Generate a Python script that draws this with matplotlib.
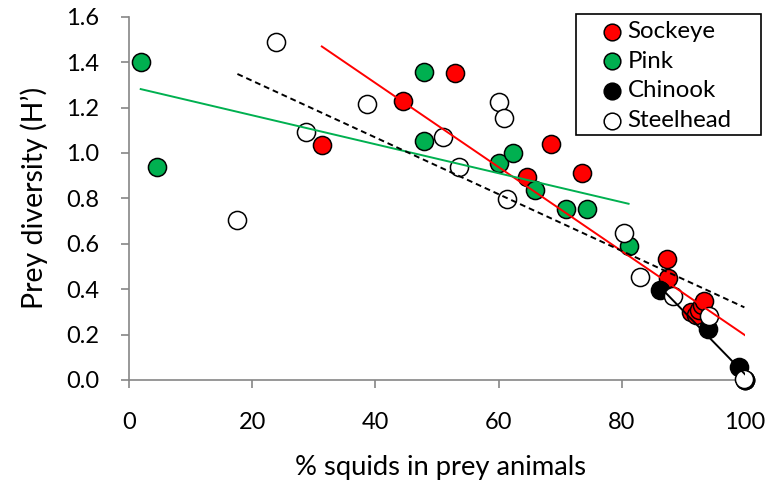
import numpy as np
import matplotlib
matplotlib.use("Agg")
import matplotlib.pyplot as plt
from matplotlib.patches import Rectangle

plt.rcParams['font.family'] = ['Lato', 'DejaVu Sans']

# % squids in prey animals (x) and prey diversity H' (y) per species
sockeye_x = [31.3, 44.5, 52.9, 64.6, 68.5, 73.5, 87.4, 87.5, 91.3, 92.0, 92.6, 93.0, 93.3, 100.0, 100.0]
sockeye_y = [1.035, 1.23, 1.351, 0.896, 1.040, 0.910, 0.534, 0.450, 0.300, 0.287, 0.310, 0.330, 0.350, 0.0, 0.0]

pink_x = [1.9, 4.6, 47.9, 47.9, 60.1, 62.3, 65.9, 70.9, 74.3, 81.1]
pink_y = [1.40, 0.94, 1.358, 1.053, 0.954, 0.998, 0.837, 0.752, 0.753, 0.592]

chinook_x = [86.2, 94.0, 99.1, 100.0]
chinook_y = [0.396, 0.223, 0.059, 0.0]

steelhead_x = [17.6, 23.9, 28.8, 38.7, 50.9, 53.6, 60.0, 60.9, 61.4, 80.3, 83.0, 88.3, 94.2, 99.9]
steelhead_y = [0.703, 1.488, 1.091, 1.214, 1.072, 0.937, 1.226, 1.152, 0.796, 0.646, 0.455, 0.372, 0.282, 0.003]

x_ticks = [0, 20, 40, 60, 80, 100]
y_ticks = [0.0, 0.2, 0.4, 0.6, 0.8, 1.0, 1.2, 1.4, 1.6]

RED = '#FF0000'
GREEN = '#00B050'
AXIS_GREY = '#868686'

W, H = 773, 483
fig = plt.figure(figsize=(W / 100, H / 100), dpi=100)
ax = fig.add_axes([129 / W, 103 / H, 616 / W, 363.3 / H])

series = [
    ("Sockeye", sockeye_x, sockeye_y, RED),
    ("Pink", pink_x, pink_y, GREEN),
    ("Chinook", chinook_x, chinook_y, 'black'),
    ("Steelhead", steelhead_x, steelhead_y, 'white'),
]

for i, (name, xs, ys, col) in enumerate(series):
    ax.scatter(xs, ys, s=170, c=col, edgecolors='black', linewidths=1.1,
               label=name, zorder=3 + i * 0.1, clip_on=False)

# Linear trend per species, spanning each species' x range
trend_styles = [
    (sockeye_x, sockeye_y, RED, '-'),
    (pink_x, pink_y, GREEN, '-'),
    (chinook_x, chinook_y, 'black', '-'),
    (steelhead_x, steelhead_y, 'black', (0, (3.0, 2.0))),
]
for xs, ys, col, ls in trend_styles:
    k, b = np.polyfit(xs, ys, 1)
    xx = np.array([min(xs), max(xs)])
    ax.plot(xx, k * xx + b, color=col, lw=1.4, ls=ls, zorder=5)

ax.set_xlim(0, 100)
ax.set_ylim(0, 1.6)
ax.set_xticks(x_ticks)
ax.set_yticks(y_ticks)
ax.set_yticklabels([f"{v:.1f}" for v in y_ticks])

for side in ('top', 'right'):
    ax.spines[side].set_visible(False)
for side in ('left', 'bottom'):
    ax.spines[side].set_color(AXIS_GREY)
    ax.spines[side].set_linewidth(1.2)
ax.tick_params(direction='out', length=6, width=1.2, color=AXIS_GREY,
               labelsize=17, labelcolor='black')
ax.tick_params(axis='x', pad=17)
ax.tick_params(axis='y', pad=15.5)

ax.set_xlabel("% squids in prey animals", fontsize=19.7)
ax.set_ylabel("Prey diversity (H\u2019)", fontsize=20.5)
ax.xaxis.set_label_coords(0.5065, -0.206)
ax.yaxis.set_label_coords(-0.131, 0.5)

# Legend box with entries inside
fig.patches.append(Rectangle((576 / W, 1 - 135 / H), 185 / W, 121 / H,
                             transform=fig.transFigure, fill=False,
                             edgecolor='black', linewidth=1.2, zorder=10))
leg = ax.legend(loc='upper left', bbox_to_anchor=(600 / W, 1 - 21 / H),
                bbox_transform=fig.transFigure, frameon=False,
                fontsize=17.3, markerscale=0.92, handletextpad=0.15,
                labelspacing=0.36, borderpad=0, handlelength=1.0,
                borderaxespad=0)

fig.savefig("out.png", dpi=100)
